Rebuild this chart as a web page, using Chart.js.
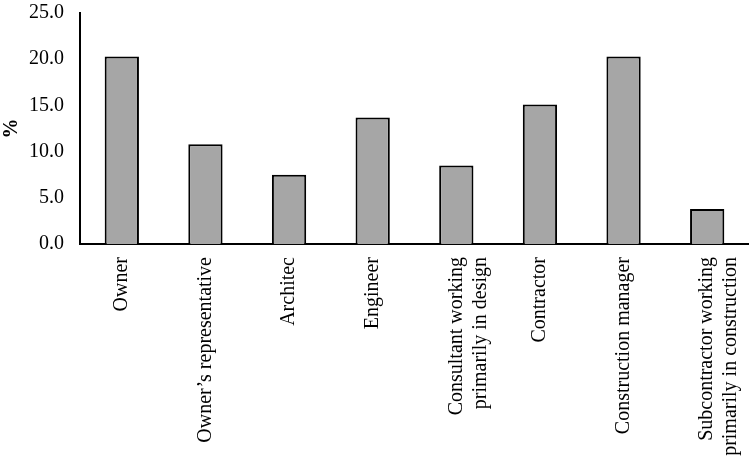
<!DOCTYPE html>
<html>
<head>
<meta charset="utf-8">
<script src="https://cdn.jsdelivr.net/npm/chart.js@4/dist/chart.umd.min.js"></script>
<style>
html,body{margin:0;padding:0;background:#fff;}
#wrap{width:749px;height:456px;position:relative;}
</style>
</head>
<body>
<div id="wrap"><canvas id="c" width="749" height="456"></canvas></div>
<script>
const categories = [
  "Owner",
  "Owner\u2019s representative",
  "Architec",
  "Engineer",
  ["Consultant working", "primarily in design"],
  "Contractor",
  "Construction manager",
  ["Subcontractor working", "primarily in construction"]
];
const percentValues = [20.3, 10.8, 7.5, 13.7, 8.5, 15.1, 20.3, 3.8];
const yTicks = [0, 5, 10, 15, 20, 25];

const FONT = "'Liberation Serif', 'Times New Roman', serif";

new Chart(document.getElementById('c'), {
  type: 'bar',
  data: {
    labels: categories,
    datasets: [{
      data: percentValues,
      backgroundColor: '#a6a6a6',
      borderColor: '#000000',
      borderWidth: 2,
      barPercentage: 0.82,
      categoryPercentage: 0.5
    }]
  },
  options: {
    responsive: false,
    animation: false,
    devicePixelRatio: 1,
    layout: { padding: { top: 13, right: 0, left: 0, bottom: 0 } },
    plugins: { legend: { display: false }, tooltip: { enabled: false } },
    scales: {
      x: {
        grid: { display: false, drawTicks: false },
        border: { color: '#000', width: 2 },
        afterFit: (s) => { s.height = 212; s.paddingLeft = 0; s.paddingRight = 0; },
        ticks: {
          color: '#000',
          font: { family: FONT, size: 20 },
          maxRotation: 90,
          minRotation: 90,
          autoSkip: false,
          padding: 13
        }
      },
      y: {
        min: 0,
        max: 25,
        afterBuildTicks: (axis) => { axis.ticks = yTicks.map(v => ({ value: v })); },
        afterFit: (s) => { s.width = 80; s.paddingTop = 0; s.paddingBottom = 0; },
        grid: { display: false, drawTicks: false },
        border: { color: '#000', width: 2 },
        title: {
          display: true,
          text: '%',
          color: '#000',
          font: { family: FONT, size: 20, weight: 'bold' },
          padding: { top: 0, bottom: 2 }
        },
        ticks: {
          color: '#000',
          font: { family: FONT, size: 20 },
          padding: 16,
          callback: (v) => Number(v).toFixed(1)
        }
      }
    }
  }
});
</script>
</body>
</html>
